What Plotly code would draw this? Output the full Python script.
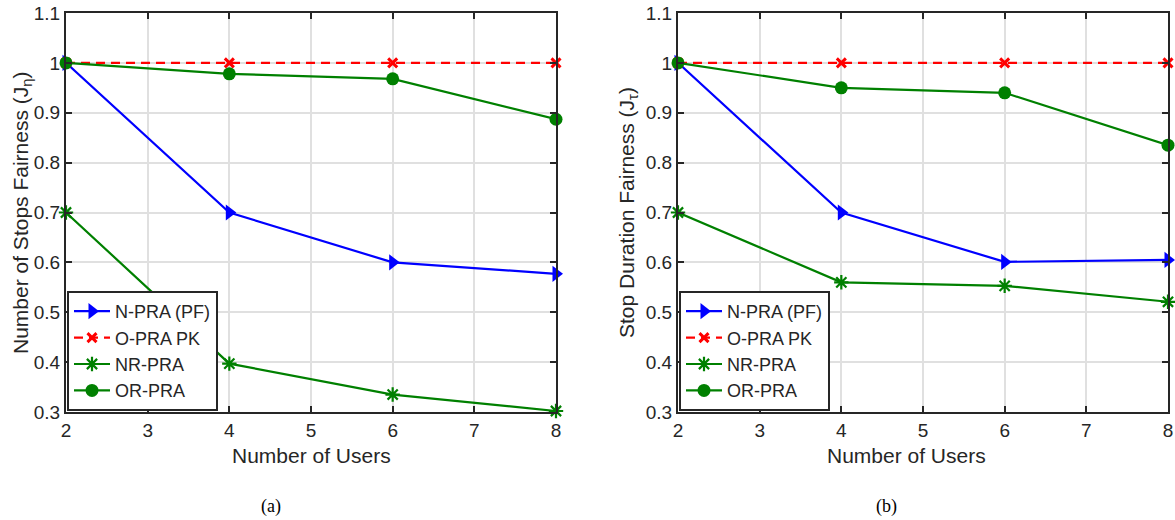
import plotly.graph_objects as go

users = [2, 4, 6, 8]
names = ["N-PRA (PF)", "O-PRA PK", "NR-PRA", "OR-PRA"]

# (a) Number of stops fairness
a_npra = [1.0, 0.70, 0.60, 0.577]
a_opra = [1.0, 1.0, 1.0, 1.0]
a_nrpra = [0.70, 0.397, 0.335, 0.302]
a_orpra = [1.0, 0.978, 0.968, 0.887]

# (b) Stop duration fairness
b_npra = [1.0, 0.70, 0.601, 0.605]
b_opra = [1.0, 1.0, 1.0, 1.0]
b_nrpra = [0.70, 0.56, 0.553, 0.521]
b_orpra = [1.0, 0.95, 0.94, 0.835]

x_ticks = [2, 3, 4, 5, 6, 7, 8]
y_ticks = [0.3, 0.4, 0.5, 0.6, 0.7, 0.8, 0.9, 1.0, 1.1]
y_tick_text = ["0.3", "0.4", "0.5", "0.6", "0.7", "0.8", "0.9", "1", "1.1"]

W, H = 1175, 520
BLUE, RED, GREEN = "#0000ff", "#ff0000", "#008000"
AX = "#262626"
FONT = "Liberation Sans, Arial, sans-serif"

styles = [
    dict(line=dict(color=BLUE, width=2.2), marker=dict(symbol="triangle-right", size=14, color=BLUE)),
    dict(line=dict(color=RED, width=2.2, dash="9px,6px"),
         marker=dict(symbol="x-thin", size=9, color=RED, line=dict(color=RED, width=3))),
    dict(line=dict(color=GREEN, width=2.2),
         marker=dict(symbol="asterisk", size=12, color=GREEN, line=dict(color=GREEN, width=2.2))),
    dict(line=dict(color=GREEN, width=2.2), marker=dict(symbol="circle", size=13, color=GREEN)),
]

fig = go.Figure()
for panel, (series, xa, ya, lg) in enumerate([
    ([a_npra, a_opra, a_nrpra, a_orpra], "x", "y", "legend"),
    ([b_npra, b_opra, b_nrpra, b_orpra], "x2", "y2", "legend2"),
]):
    for name, vals, st in zip(names, series, styles):
        fig.add_trace(go.Scatter(
            x=users, y=vals, name=name, mode="lines+markers",
            line=st["line"], marker=st["marker"], xaxis=xa, yaxis=ya,
            legend=lg, cliponaxis=False,
        ))

def px(v):
    return v / W

def py(v):
    return 1 - v / H

axis_common = dict(
    showline=True, linecolor=AX, linewidth=2, mirror="allticks",
    ticks="inside", ticklen=6, tickwidth=2, tickcolor=AX,
    showgrid=True, gridcolor="#e0e0e0", gridwidth=2,
    zeroline=False, automargin=False,
    tickfont=dict(family=FONT, size=19, color=AX),
)

legend_common = dict(
    xanchor="left", yanchor="bottom", bgcolor="white", bordercolor=AX, borderwidth=2,
    font=dict(family=FONT, size=18, color=AX), tracegroupgap=0, itemwidth=36,
)

fig.update_layout(
    template="none",
    width=W, height=H,
    margin=dict(l=0, r=0, t=0, b=0, pad=0, autoexpand=False),
    paper_bgcolor="white", plot_bgcolor="white",
    font=dict(family=FONT, size=19, color=AX),
    hovermode=False,
    xaxis=dict(domain=[px(66), px(556)], range=[2, 8], tickvals=x_ticks, anchor="y", **axis_common),
    yaxis=dict(domain=[py(412), py(13)], range=[0.3, 1.1], tickvals=y_ticks, ticktext=y_tick_text,
               anchor="x", **axis_common),
    xaxis2=dict(domain=[px(678), px(1168)], range=[2, 8], tickvals=x_ticks, anchor="y2", **axis_common),
    yaxis2=dict(domain=[py(412), py(13)], range=[0.3, 1.1], tickvals=y_ticks, ticktext=y_tick_text,
                anchor="x2", **axis_common),
    legend=dict(x=px(67), y=py(411), **legend_common),
    legend2=dict(x=px(679), y=py(411), **legend_common),
    showlegend=True,
)

ann = [
    dict(text="Number of Stops Fairness (J<sub>η</sub>)", x=px(22), y=py(213), textangle=-90),
    dict(text="Stop Duration Fairness (J<sub>τ</sub>)", x=px(628), y=py(213), textangle=-90),
    dict(text="Number of Users", x=px(311), y=py(455)),
    dict(text="Number of Users", x=px(906), y=py(455)),
]
for a in ann:
    fig.add_annotation(xref="paper", yref="paper", showarrow=False,
                       xanchor="center", yanchor="middle",
                       font=dict(family=FONT, size=21, color=AX), **a)
for t, xc in [("(a)", 271), ("(b)", 886)]:
    fig.add_annotation(text=t, xref="paper", yref="paper", x=px(xc), y=py(506),
                       showarrow=False, xanchor="center", yanchor="middle",
                       font=dict(family="Liberation Serif, Times New Roman, serif", size=18, color="black"))

fig.write_html(
    "out.html",
    config={"displayModeBar": False, "staticPlot": True},
    post_script="document.body.style.margin='0';document.body.style.overflow='hidden';",
)
